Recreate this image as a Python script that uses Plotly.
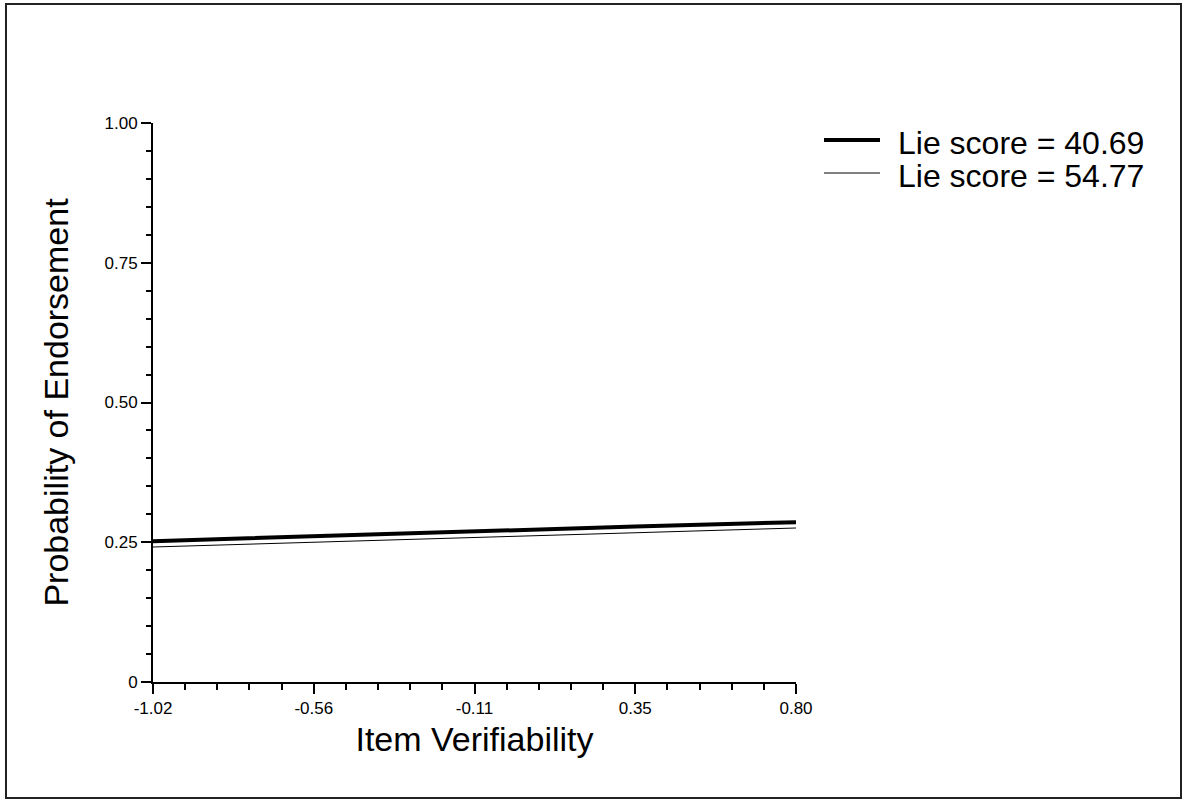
import plotly.graph_objects as go

# Data
x_vals = [-1.02, -0.565, -0.11, 0.345, 0.80]
lie_4069 = [0.252, 0.261, 0.270, 0.278, 0.286]
lie_5477 = [0.2415, 0.250, 0.2585, 0.2665, 0.2755]
series_names = ["Lie score = 40.69", "Lie score = 54.77"]
series_widths = [4, 1]

x_tickvals = [-1.02, -0.565, -0.11, 0.345, 0.80]
x_ticktext = ["-1.02", "-0.56", "-0.11", "0.35", "0.80"]
y_tickvals = [0, 0.25, 0.5, 0.75, 1.0]
y_ticktext = ["0", "0.25", "0.50", "0.75", "1.00"]

FONT = "Arial, Liberation Sans, sans-serif"

fig = go.Figure()
for ys, nm, lw in zip([lie_4069, lie_5477], series_names, series_widths):
    fig.add_trace(go.Scatter(x=x_vals, y=ys, mode="lines", name=nm,
                             line=dict(color="black", width=lw)))

W, H = 1184, 800
L, R, T, B = 153, 388, 123, 118
pw, ph = W - L - R, H - T - B

def px(xp):
    return (xp - L) / pw

def py(yp):
    return (H - B - yp) / ph

fig.update_layout(
    width=W, height=H,
    margin=dict(l=L, r=R, t=T, b=B, autoexpand=False),
    paper_bgcolor="white", plot_bgcolor="white",
    font=dict(family=FONT, color="black"),
    showlegend=False,
    xaxis=dict(range=[-1.02, 0.80], showgrid=False, zeroline=False,
               showline=True, linecolor="black", linewidth=2,
               ticks="outside", ticklen=10, tickwidth=2, tickcolor="black",
               tickvals=x_tickvals, ticktext=x_ticktext,
               tickfont=dict(size=17, family=FONT, color="black"),
               minor=dict(tick0=-1.02, dtick=0.091, ticks="outside", ticklen=6,
                          tickwidth=2, tickcolor="black", showgrid=False),
               title=dict(text="Item Verifiability", standoff=10,
                          font=dict(size=34, family=FONT, color="black")),
               automargin=False, fixedrange=True),
    yaxis=dict(range=[0, 1], showgrid=False, zeroline=False,
               showline=True, linecolor="black", linewidth=2,
               ticks="outside", ticklen=10, tickwidth=2, tickcolor="black",
               tickvals=y_tickvals, ticktext=y_ticktext,
               tickfont=dict(size=17, family=FONT, color="black"),
               minor=dict(tick0=0, dtick=0.05, ticks="outside", ticklen=5,
                          tickwidth=2, tickcolor="black", showgrid=False),
               title=dict(text="Probability of Endorsement", standoff=26,
                          font=dict(size=34, family=FONT, color="black")),
               automargin=False, fixedrange=True),
)

# legend drawn as decoration (sample line + text)
legend_rows = [(140, 143), (173, 176)]
for (ly, ty), nm, lw in zip(legend_rows, series_names, series_widths):
    fig.add_shape(type="line", xref="paper", yref="paper",
                  x0=px(824), x1=px(880), y0=py(ly), y1=py(ly),
                  line=dict(color="black", width=lw))
    fig.add_annotation(xref="paper", yref="paper", x=px(896), y=py(ty),
                       xanchor="left", yanchor="middle", showarrow=False,
                       text=nm, font=dict(size=32, family=FONT, color="black"))

# outer frame
fig.add_shape(type="rect", xref="paper", yref="paper",
              x0=px(6), x1=px(1181), y0=py(798), y1=py(4),
              line=dict(color="#222222", width=2), fillcolor="rgba(0,0,0,0)",
              layer="below")

fig.write_html("out.html", config={"displayModeBar": False})
